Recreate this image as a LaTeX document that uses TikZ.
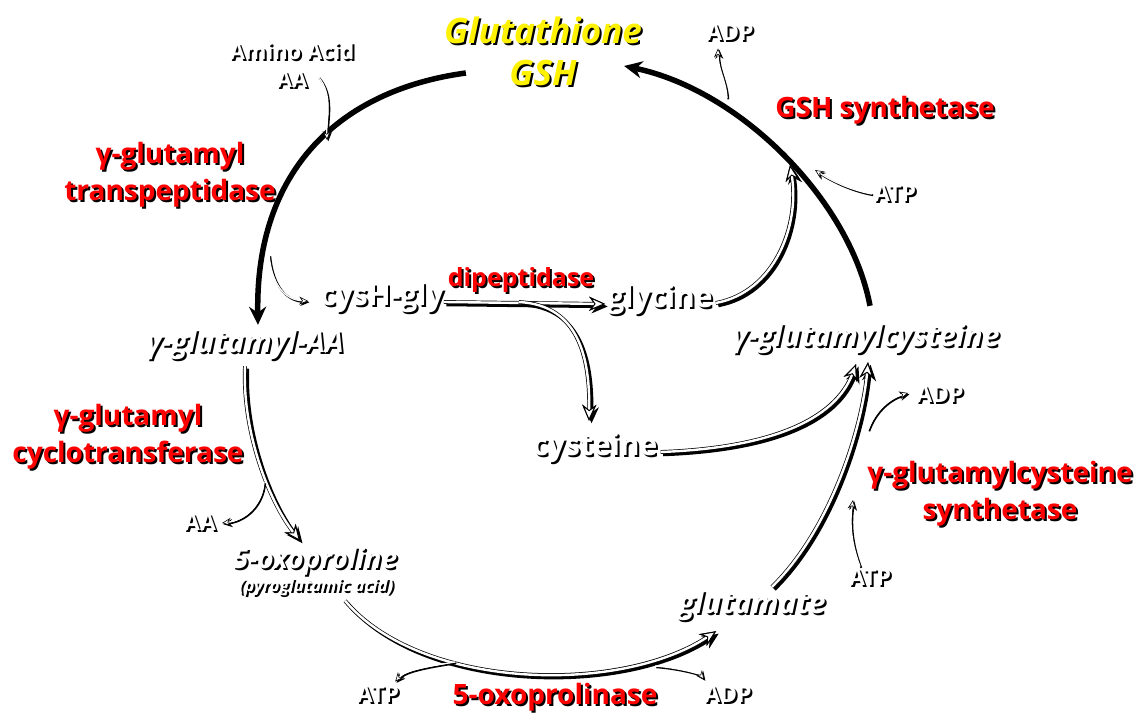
\documentclass[tikz,border=0pt]{standalone}
\usepackage{fontspec}
\setmainfont{Open Sans}
\usetikzlibrary{arrows.meta, positioning}

% text with a dark drop shadow
\newcommand{\shd}[1]{\makebox[0pt][l]{\kern2pt\raisebox{-2pt}{\color{black}#1}}#1}

\tikzset{
  metab/.style={text=white, inner sep=0pt, font=\fontsize{30}{34}\selectfont\bfseries\itshape},
  metabup/.style={text=white, inner sep=0pt, font=\fontsize{30}{34}\selectfont\bfseries},
  enzyme/.style={text=red, inner sep=0pt, align=center, font=\fontsize{28}{37}\selectfont\bfseries},
  cofac/.style={text=white, inner sep=0pt, align=center, font=\fontsize{23}{28}\selectfont\bfseries},
  ring/.style={draw=black, line width=5.5pt, -{Stealth[length=18pt,width=17pt]}},
  flow/.style={draw=white, line width=2.4pt,
    -{Stealth[length=16pt,width=14pt,color=black,fill=white,line width=1pt]},
    preaction={draw=black, line width=3.5pt, -{Stealth[length=16pt,width=14pt]},
      transform canvas={shift={(2.5pt,-2.5pt)}}},
    preaction={draw=black, line width=3.8pt, -{Stealth[length=16pt,width=14pt]}}},
  thin/.style={draw=white, line width=1.3pt,
    -{Stealth[length=9pt,width=8pt,color=black,fill=white,line width=0.6pt]},
    preaction={draw=black, line width=1.8pt, -{Stealth[length=9pt,width=8pt]},
      transform canvas={shift={(1.3pt,-1.3pt)}}}},
}

\begin{document}
\begin{tikzpicture}[x=1pt, y=-1pt]
  \fill[white] (0,0) rectangle (1142,719);
  \useasboundingbox (0,0) rectangle (1142,719);

  % metabolites
  \node (gsh) [metab, text=yellow, align=center, font=\fontsize{35}{42}\selectfont\bfseries\itshape] at (543,52) {\shd{Glutathione}\\\shd{GSH}};
  \node (cysgly) [metabup] at (382,299) {\shd{cysH-gly}};
  \node (gly) [metabup] at (660,301) {\shd{glycine}};
  \node (ggaa) [metab] at (245,346) {\shd{γ-glutamyl-AA}};
  \node (ggc) [metab, font=\fontsize{30}{34}\selectfont\bfseries\itshape] at (866,340) {\shd{γ-glutamylcysteine}};
  \node (cys) [metabup] at (595,449) {\shd{cysteine}};
  \node (oxo) [metab, font=\fontsize{28}{34}\selectfont\bfseries\itshape] at (315,562) {\shd{5-oxoproline}};
  \node (pyro) [metab, font=\fontsize{17}{20}\selectfont\bfseries\itshape] at (316,588) {\shd{(pyroglutamic acid)}};
  \node (glu) [metab] at (752,607) {\shd{glutamate}};

  % enzymes
  \node (gshs) [enzyme] at (885,111) {\shd{GSH synthetase}};
  \node (ggt) [enzyme] at (170,176) {\shd{γ-glutamyl}\\\shd{transpeptidase}};
  \node (dipep) [enzyme, font=\fontsize{25}{30}\selectfont\bfseries] at (521,281) {\shd{dipeptidase}};
  \node (ggct) [enzyme] at (128,438) {\shd{γ-glutamyl}\\\shd{cyclotransferase}};
  \node (gcs) [enzyme] at (1000,495) {\shd{γ-glutamylcysteine}\\\shd{synthetase}};
  \node (oxoase) [enzyme] at (555,698) {\shd{5-oxoprolinase}};

  % cofactors
  \node (aa1) [cofac, font=\fontsize{22}{28}\selectfont\bfseries] at (292,66) {\shd{Amino Acid}\\\shd{AA}};
  \node (adpA) [cofac] at (730,33) {\shd{ADP}};
  \node (atpA) [cofac] at (895,194) {\shd{ATP}};
  \node (adpB) [cofac] at (940,395) {\shd{ADP}};
  \node (aa2) [cofac] at (200,523) {\shd{AA}};
  \node (atpB) [cofac] at (870,578) {\shd{ATP}};
  \node (atpC) [cofac] at (378,695) {\shd{ATP}};
  \node (adpC) [cofac] at (728,695) {\shd{ADP}};

  % points on the ring
  \coordinate (aain) at (327,140);
  \coordinate (cgout) at (269,255);
  \coordinate (adpout1) at (727,98);
  \coordinate (atpin1) at (815,170);
  \coordinate (gsynth) at (790,165);
  \coordinate (aaout) at (264,482);
  \coordinate (atpring) at (455,662);
  \coordinate (adpring) at (655,666);
  \coordinate (adpring2) at (868,430);
  \coordinate (atpring2) at (853,500);

  % main cycle
  \draw[ring] ([shift={(22,21)}]gsh.west) .. controls (340,90) and (255,170) .. ([shift={(13,-5)}]ggaa.north);
  \draw[ring] ([shift={(4,-18)}]ggc.north) .. controls (850,200) and (740,90) .. ([shift={(-18,14)}]gsh.east);
  \draw[flow] ([shift={(0,4)}]ggaa.south) .. controls (242,430) and (268,500) .. ([shift={(-15,-6)}]oxo.north);
  \draw[flow] ([shift={(29,3)}]pyro.south) .. controls (420,690) and (620,695) .. ([shift={(38,8)}]glu.south west);
  \draw[flow] ([shift={(20,-4)}]glu.north) .. controls (830,530) and (862,430) .. ([shift={(2,6)}]ggc.south);
  \draw[flow] ([shift={(3,3)}]cys.east) .. controls (770,448) and (835,420) .. ([shift={(-10,8)}]ggc.south);
  \draw[flow] ([shift={(3,2)}]gly.east) .. controls (775,292) and (800,225) .. (gsynth);
  \draw[flow, shorten >=2pt] ([yshift=-3pt]cysgly.east) -- ([yshift=-3pt]gly.west);
  \draw[flow] ([shift={(75,3)}]cysgly.east) .. controls (580,305) and (590,360) .. ([shift={(-6,-12)}]cys.north);

  % side reactions
  \draw[thin] ([shift={(26,-13)}]aa1.south) .. controls (334,95) and (326,120) .. (aain);
  \draw[thin] (cgout) .. controls (272,285) and (285,300) .. ([shift={(-12,2)}]cysgly.west);
  \draw[thin] (adpout1) .. controls (726,80) and (718,70) .. ([shift={(-12,6)}]adpA.south);
  \draw[thin] ([shift={(-2,0)}]atpA.west) .. controls (850,190) and (830,180) .. (atpin1);
  \draw[thin] (aaout) .. controls (262,505) and (245,520) .. ([shift={(6,0)}]aa2.east);
  \draw[thin] (atpring) .. controls (430,666) and (405,670) .. ([shift={(-4,-4)}]atpC.north east);
  \draw[thin] (adpring) .. controls (680,668) and (700,674) .. ([shift={(0,-6)}]adpC.north west);
  \draw[thin] (adpring2) .. controls (875,410) and (890,398) .. ([shift={(-8,-2)}]adpB.west);
  \draw[thin] ([shift={(-10,-2)}]atpB.north) .. controls (850,540) and (850,520) .. (atpring2);
\end{tikzpicture}
\end{document}
